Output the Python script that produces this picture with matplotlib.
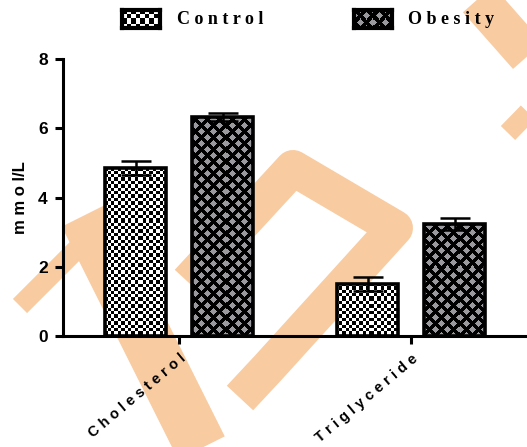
import numpy as np
import matplotlib
matplotlib.use("Agg")
import matplotlib.pyplot as plt
from matplotlib.lines import Line2D
from matplotlib.transforms import IdentityTransform

# data
categories = ["Cholesterol", "Triglyceride"]
groups = ["Control", "Obesity"]
control_means = [4.86, 1.51]
control_err = [0.20, 0.20]
obesity_means = [6.32, 3.24]
obesity_err = [0.12, 0.17]

# watermark strokes (image pixel coords, y down) and widths in px
wm_strokes = [
    [(20, 306), (100, 226)],
    [(85, 215), (205, 455)],
    [(188, 282), (293, 168), (395, 228), (268, 368), (240, 398)],
    [(470, -10), (545, 75)],
    [(508, 133), (545, 95)],
]
wm_widths = [20, 52, 36, 40, 20]
wm_color = "#F8CBA1"

W, H = 527, 447
fig = plt.figure(figsize=(W / 100, H / 100), dpi=100)
plt.rcParams['font.family'] = ['Liberation Sans', 'DejaVu Sans']

# watermark behind everything
for pts, lw in zip(wm_strokes, wm_widths):
    xs = [p[0] for p in pts]
    ys = [H - p[1] for p in pts]
    fig.add_artist(Line2D(xs, ys, transform=IdentityTransform(), color=wm_color,
                          linewidth=lw * 0.72, solid_joinstyle='round',
                          solid_capstyle='butt', zorder=-5))

ax = fig.add_axes([63 / W, (H - 336) / H, (W - 63) / W, (336 - 59) / H])
ax.patch.set_visible(False)
ax.set_xlim(-0.5, 1.5)
ax.set_ylim(0, 8)


def checker(w, h, cell):
    yy, xx = np.mgrid[0:h, 0:w]
    c = ((np.floor(xx / cell) + np.floor(yy / cell)) % 2).astype(float)
    return np.dstack([c, c, c])


def diamonds(w, h, period, half):
    yy, xx = np.mgrid[0:h, 0:w]
    u = (xx + yy) % period - period / 2
    v = (xx - yy) % period - period / 2
    gray = (np.abs(u) < half) & (np.abs(v) < half)
    img = np.zeros((h, w, 3))
    img[gray] = [0.60, 0.60, 0.62]
    return img


aw, ah = int(ax.bbox.width), int(ax.bbox.height)
textures = [checker(aw, ah, 3.4), diamonds(aw, ah, 12, 3.6)]

x = np.arange(len(categories))
bw = 0.267
off = 0.1875
series = [(control_means, control_err), (obesity_means, obesity_err)]
for i, (means, errs) in enumerate(series):
    pos = x + (i * 2 - 1) * off
    bars = ax.bar(pos, means, bw, facecolor='none', edgecolor='black',
                  linewidth=2.6, zorder=3)
    for b in bars:
        im = ax.imshow(textures[i], extent=(-0.5, 1.5, 0, 8), aspect='auto',
                       interpolation='nearest', zorder=2)
        im.set_clip_path(b)
    ax.errorbar(pos, means, yerr=errs, fmt='none', ecolor='black',
                elinewidth=1.8, capsize=10.8, capthick=1.8, zorder=4)

ax.set_xlim(-0.5, 1.5)
ax.set_ylim(0, 8)

for s in ['top', 'right']:
    ax.spines[s].set_visible(False)
for s in ['left', 'bottom']:
    ax.spines[s].set_linewidth(2.2)
ax.spines['bottom'].set_zorder(5)

ax.set_yticks([0, 2, 4, 6, 8])
ax.tick_params(axis='y', length=6, width=2.2, pad=5, labelsize=12.5)
for t in ax.get_yticklabels():
    t.set_fontweight('bold')
ax.set_xticks(x)
ax.set_xticklabels([" ".join(c) for c in categories], rotation=40,
                   ha='right', rotation_mode='anchor', fontsize=10.5,
                   fontweight='bold')
ax.tick_params(axis='x', length=6, width=2.2, pad=5)

ax.set_ylabel("m m o l/L", fontsize=12, fontweight='bold')
ax.yaxis.set_label_coords(-0.075, 0.5)

# legend built by hand so the swatches carry the same textures
swatches = [(122, "checker"), (354, "diamond")]
text_x = [177, 408]
for (sx, kind), tx, name in zip(swatches, text_x, groups):
    sax = fig.add_axes([sx / W, (H - 28) / H, 38 / W, 18 / H])
    big = checker(38, 18, 4.5) if kind == "checker" else diamonds(38, 18, 12, 3.6)
    sax.imshow(big, aspect='auto', interpolation='nearest')
    sax.set_xticks([])
    sax.set_yticks([])
    for sp in sax.spines.values():
        sp.set_linewidth(3)
    fig.text(tx / W, (H - 20) / H, " ".join(name), ha='left', va='center',
             fontsize=13, fontweight='bold',
             family=['Liberation Serif', 'DejaVu Serif'])

fig.savefig("out.png", dpi=100)
